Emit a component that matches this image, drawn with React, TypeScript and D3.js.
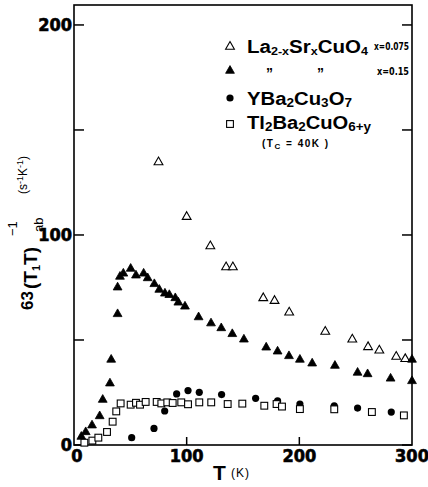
import React from "react";
import * as d3 from "d3";

// La2-xSrxCuO4 x=0.075 (open triangles)
const laLowT = [75, 100, 121, 135, 141, 168, 178, 191, 223, 247, 261, 271, 286, 294];
const laLowV = [135, 109, 95, 85, 85, 70.3, 69, 63.5, 54.3, 50.6, 47, 45.4, 42.4, 41.3];
// La2-xSrxCuO4 x=0.15 (filled triangles)
const laHighT = [6.5, 10.4, 16, 22.8, 25.5, 31.9, 33, 38.7, 38.7, 40.8, 43.8, 50.3, 55, 61.8, 65.4, 71.3, 75.7, 80.7, 84.6, 89.9, 92.6, 98.5, 110.6, 121.6, 130.7, 140.5, 150.8, 170.6, 180.7, 190.8, 200.5, 211.4, 231.6, 251.7, 260.6, 281, 300, 300];
const laHighV = [4.3, 6.5, 9.7, 14.1, 21.9, 29.7, 41, 62.7, 75.4, 80.5, 82, 84.3, 81.1, 82, 79.8, 77, 74.3, 72.5, 71.8, 70.3, 68.2, 66.3, 61.2, 58.3, 56, 53.2, 50.6, 46.8, 44.9, 42.7, 41, 39.2, 38.1, 34.8, 34.1, 32, 41, 30.8];
// YBa2Cu3O7 (filled circles)
const ybcoT = [51.2, 71, 80.5, 91.1, 101.2, 111.2, 131, 161.2, 180.7, 200.5, 231, 251.7, 281.6];
const ybcoV = [3.5, 7.9, 16.2, 24.3, 25.9, 25.1, 24, 22.2, 21, 19.5, 18.7, 17.6, 15.7];
// Tl2Ba2CuO6+y (open squares)
const tlT = [9.2, 16.3, 21.6, 29.3, 34.3, 37.5, 41.4, 50.3, 55, 58.6, 63.6, 73.4, 77.5, 82.8, 87.6, 95.2, 101.2, 111.2, 121.8, 136.4, 149.4, 168.9, 179.8, 184.6, 200.5, 231, 264.4, 292.8];
const tlV = [1.1, 2.1, 3.5, 6.2, 11.1, 16, 19.8, 19.2, 20.1, 19.2, 20.5, 20.5, 19.8, 20.3, 20, 20.3, 19.4, 20.3, 20.3, 19.5, 19.7, 18.7, 19.5, 18.3, 17.1, 17, 15.7, 14.1];

const xTickLabels = [0, 100, 200, 300];
const yTickLabels = [0, 100, 200];
const yTicks = [0, 50, 100, 150, 200];
const xTicks = [100, 200];

const W = 428;
const H = 487;

function tri(cx: number, cy: number, s = 4.4) {
  return `M${cx},${cy - s}L${cx + s},${cy + s * 0.75}L${cx - s},${cy + s * 0.75}Z`;
}

export default function App() {
  const x = d3.scaleLinear().domain([0, 300]).range([74, 412]);
  const y = d3.scaleLinear().domain([0, 209.5]).range([445, 5]);
  const tickFont = "'DejaVu Sans Condensed', 'DejaVu Sans', sans-serif";
  const legFont = "'Liberation Sans', Arial, sans-serif";

  return (
    <svg width={W} height={H} style={{ position: "absolute", left: 0, top: 0, background: "#fff" }}>
      <rect x={0} y={0} width={W} height={H} fill="#fff" />
      {/* frame */}
      <rect x={x(0)} y={y(209.5)} width={x(300) - x(0)} height={y(0) - y(209.5)} fill="none" stroke="#000" strokeWidth={1.6} />
      {yTicks.map((t) => (
        <g key={"yt" + t}>
          <line x1={x(0)} x2={x(0) + 10} y1={y(t)} y2={y(t)} stroke="#000" strokeWidth={1.5} />
          <line x1={x(300)} x2={x(300) - 10} y1={y(t)} y2={y(t)} stroke="#000" strokeWidth={1.5} />
        </g>
      ))}
      {xTicks.map((t) => (
        <line key={"xt" + t} x1={x(t)} x2={x(t)} y1={y(0)} y2={y(0) - 8} stroke="#000" strokeWidth={1.5} />
      ))}
      {yTickLabels.map((t) => (
        <text key={"yl" + t} x={x(0) - 2} y={y(t) + 6} textAnchor="end" fontFamily={tickFont} fontWeight="bold" fontSize={18} stroke="#000" strokeWidth={0.6}>
          {t}
        </text>
      ))}
      {xTickLabels.map((t) => (
        <text key={"xl" + t} x={x(t) + (t === 0 ? 3 : 0)} y={y(0) + 17} textAnchor="middle" fontFamily={tickFont} fontWeight="bold" fontSize={18} stroke="#000" strokeWidth={0.6}>
          {t}
        </text>
      ))}
      {/* x axis title */}
      <text x={213} y={480} fontFamily={legFont} fontWeight="bold" fontSize={21}>T</text>
      <text x={231} y={477} fontFamily={legFont} fontSize={12} letterSpacing={1}>(K)</text>
      {/* y axis title */}
      <g transform="translate(37,312) rotate(-90)" fontFamily={legFont} fontWeight="bold">
        <text x={2} y={-4} fontSize={17}>63</text>
        <text x={23} y={0} fontSize={19}>
          (T<tspan fontSize={11} dy={3}>1</tspan><tspan dy={-3}>T)</tspan>
        </text>
        <text x={76} y={-20} fontSize={13} fontWeight="normal">−1</text>
        <text x={80} y={6} fontSize={13} fontWeight="normal">ab</text>
        <text x={118} y={-10} fontSize={12} fontWeight="normal">
          (s<tspan fontSize={9} dy={-4}>-1</tspan><tspan dy={4}>K</tspan><tspan fontSize={9} dy={-4}>-1</tspan><tspan dy={4}>)</tspan>
        </text>
      </g>
      {/* data */}
      {laLowT.map((t, i) => (
        <path key={"a" + i} d={tri(x(t), y(laLowV[i]))} fill="#fff" stroke="#000" strokeWidth={1.1} />
      ))}
      {laHighT.map((t, i) => (
        <path key={"b" + i} d={tri(x(t), y(laHighV[i]))} fill="#000" stroke="#000" strokeWidth={0.8} />
      ))}
      {ybcoT.map((t, i) => (
        <circle key={"c" + i} cx={x(t)} cy={y(ybcoV[i])} r={3.6} fill="#000" />
      ))}
      {tlT.map((t, i) => (
        <rect key={"d" + i} x={x(t) - 3.4} y={y(tlV[i]) - 3.4} width={6.8} height={6.8} fill="#fff" stroke="#000" strokeWidth={1.1} />
      ))}
      {/* legend */}
      <path d={tri(230, 46)} fill="#fff" stroke="#000" strokeWidth={1.1} />
      <path d={tri(230, 70)} fill="#000" stroke="#000" strokeWidth={0.8} />
      <circle cx={230} cy={98} r={3.6} fill="#000" />
      <rect x={226.6} y={120.6} width={6.8} height={6.8} fill="#fff" stroke="#000" strokeWidth={1.1} />
      <text x={247} y={53} fontFamily={legFont} fontWeight="bold" fontSize={18} textLength={121} lengthAdjust="spacingAndGlyphs">
        La<tspan fontSize={11} dy={2}>2-x</tspan><tspan dy={-2}>Sr</tspan><tspan fontSize={11} dy={2}>x</tspan><tspan dy={-2}>CuO</tspan><tspan fontSize={11} dy={2}>4</tspan>
      </text>
      <text x={374} y={50} fontFamily={tickFont} fontWeight="bold" fontSize={10} textLength={35} lengthAdjust="spacingAndGlyphs">x=0.075</text>
      <text x={266} y={78} fontFamily={legFont} fontWeight="bold" fontSize={14}>”</text>
      <text x={317} y={78} fontFamily={legFont} fontWeight="bold" fontSize={14}>”</text>
      <text x={377} y={75} fontFamily={tickFont} fontWeight="bold" fontSize={10} textLength={32} lengthAdjust="spacingAndGlyphs">x=0.15</text>
      <text x={247} y={105} fontFamily={legFont} fontWeight="bold" fontSize={18} textLength={105} lengthAdjust="spacingAndGlyphs">
        YBa<tspan fontSize={12} dy={2}>2</tspan><tspan dy={-2}>Cu</tspan><tspan fontSize={12} dy={2}>3</tspan><tspan dy={-2}>O</tspan><tspan fontSize={12} dy={2}>7</tspan>
      </text>
      <text x={247} y={129} fontFamily={legFont} fontWeight="bold" fontSize={18} textLength={124} lengthAdjust="spacingAndGlyphs">
        Tl<tspan fontSize={12} dy={2}>2</tspan><tspan dy={-2}>Ba</tspan><tspan fontSize={12} dy={2}>2</tspan><tspan dy={-2}>CuO</tspan><tspan fontSize={12} dy={2}>6+y</tspan>
      </text>
      <text x={262} y={147} fontFamily={legFont} fontWeight="bold" fontSize={10} letterSpacing={1.5}>
        (T<tspan fontSize={8} dy={2}>C</tspan><tspan dy={-2}> = 40K )</tspan>
      </text>
    </svg>
  );
}
